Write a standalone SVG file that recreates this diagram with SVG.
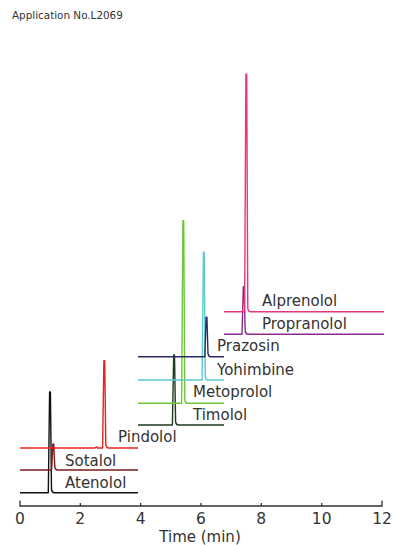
<svg xmlns="http://www.w3.org/2000/svg" width="395" height="545" viewBox="0 0 395 545">
<style>
.t{font-family:"DejaVu Sans","Verdana",sans-serif;fill:#333;font-size:15px}
.tr{fill:none;stroke-width:1.4;stroke-linejoin:round}
.ax{stroke:#333;stroke-width:1.3;fill:none}
</style>
<rect width="395" height="545" fill="#fff"/>
<text x="12" y="19" class="t" style="font-size:10.4px">Application No.L2069</text>
<g id="axis">
<path class="ax" d="M20 500.5 V506 H382 V500.5 M80.3 503 V506 M140.7 503 V506 M201 503 V506 M261.3 503 V506 M321.7 503 V506"/>
<g class="t" text-anchor="middle" style="font-size:15.5px">
<text x="20" y="524">0</text><text x="80.3" y="524">2</text><text x="140.7" y="524">4</text><text x="201" y="524">6</text><text x="261.3" y="524">8</text><text x="321.7" y="524">10</text><text x="382" y="524">12</text>
</g>
<text x="200" y="541.5" class="t" text-anchor="middle">Time (min)</text>
</g>
<g id="traces">
<path id="atenolol" class="tr" stroke="#111" d="M20 492.7 H48.3 L49.6 392 L50.4 392 L51.5 489.5 Q52.3 492.7 54 492.7 H138"/>
<path id="sotalol" class="tr" stroke="#7a1a1a" d="M20 470 H51.6 L52.9 444 L53.7 444 L54.8 467 Q55.6 470 57.3 470 H138"/>
<path id="pindolol" class="tr" stroke="#e8231e" d="M20 448 H95 L96.5 446.8 L97.5 448 H102.6 L103.9 360.8 L104.7 360.8 L105.8 445 Q106.6 448 108.3 448 H138"/>
<path id="timolol" class="tr" stroke="#1c3a20" d="M138 425 H172.4 L173.7 355 L174.5 355 L175.6 422 Q176.4 425 178.1 425 H224"/>
<path id="metoprolol" class="tr" stroke="#6cc63a" d="M138 403.3 H181.6 L182.9 220.7 L183.7 220.7 L184.8 400.3 Q185.6 403.3 187.3 403.3 H224"/>
<path id="yohimbine" class="tr" stroke="#5cc8d0" d="M138 380 H202.1 L203.4 252.3 L204.2 252.3 L205.3 377 Q206.1 380 207.8 380 H224"/>
<path id="prazosin" class="tr" stroke="#2a2a62" d="M138 356.7 H204.8 L206.1 317.3 L206.9 317.3 L208 353.7 Q208.8 356.7 210.5 356.7 H224"/>
<path id="propranolol" class="tr" stroke="#8a2a8e" d="M224 334.3 H242 L243.3 286.7 L244.1 286.7 L245.2 331.3 Q246 334.3 247.7 334.3 H384"/>
<path id="alprenolol" class="tr" stroke="#e8357c" d="M224 311.7 H244.6 L245.9 74.3 L246.7 74.3 L247.8 308.7 Q248.6 311.7 250.3 311.7 H384"/>
</g>
<g id="labels" class="t">
<text x="65" y="488">Atenolol</text>
<text x="65" y="466">Sotalol</text>
<text x="118" y="442">Pindolol</text>
<text x="193" y="420">Timolol</text>
<text x="193" y="397">Metoprolol</text>
<text x="217" y="375">Yohimbine</text>
<text x="217" y="351">Prazosin</text>
<text x="262" y="306">Alprenolol</text>
<text x="262" y="328.5">Propranolol</text>
</g>
</svg>
